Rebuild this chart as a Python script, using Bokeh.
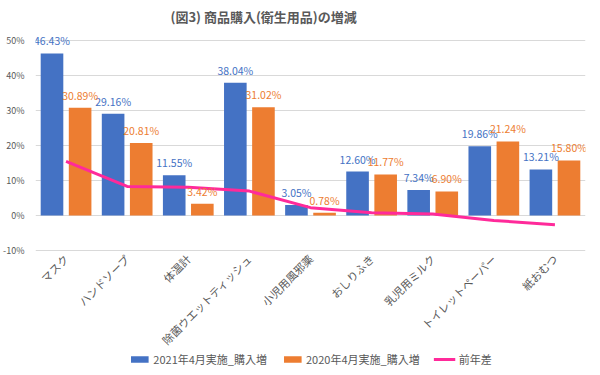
from bokeh.plotting import figure
from bokeh.models import (ColumnDataSource, Range1d, FactorRange, Legend, LegendItem,
                          FixedTicker, LabelSet)
from bokeh.transform import dodge
from bokeh.core.properties import value
from bokeh.embed import file_html
from bokeh.resources import INLINE
import math

categories = ["マスク", "ハンドソープ", "体温計", "除菌ウエットティッシュ", "小児用風邪薬",
              "おしりふき", "乳児用ミルク", "トイレットペーパー", "紙おむつ"]
purchase_2021 = [46.43, 29.16, 11.55, 38.04, 3.05, 12.60, 7.34, 19.86, 13.21]
purchase_2020 = [30.89, 20.81, 3.42, 31.02, 0.78, 11.77, 6.90, 21.24, 15.80]
year_diff = [15.54, 8.35, 8.13, 7.02, 2.27, 0.83, 0.44, -1.38, -2.59]
y_ticks = [-10, 0, 10, 20, 30, 40, 50]
y_tick_labels = ["-10%", "0%", "10%", "20%", "30%", "40%", "50%"]
series_names = ["2021年4月実施_購入増", "2020年4月実施_購入増", "前年差"]
title_text = "(図3) 商品購入(衛生用品)の増減"

BLUE = "#4472C4"
ORANGE = "#ED7D31"
PINK = "#FF2A9A"
GRAY = "#595959"
FONT = "Noto Sans CJK JP"

src = ColumnDataSource(dict(
    cat=categories,
    a=purchase_2021,
    b=purchase_2020,
    d=year_diff,
    la=[f"{v:.2f}%" for v in purchase_2021],
    lb=[f"{v:.2f}%" for v in purchase_2020],
))

# frame extends below the -10% line so the legend can sit inside it
p = figure(x_range=FactorRange(*categories, range_padding=0), y_range=Range1d(-43.5, 53),
           frame_width=550, frame_height=337, output_backend="svg", toolbar_location=None,
           min_border_left=29, min_border_right=5, min_border_top=0, min_border_bottom=0)

p.title.text = title_text
p.title.text_font = FONT
p.title.text_font_size = "13px"
p.title.text_color = GRAY
p.title.text_font_style = "bold"
p.title.align = "left"
p.title.offset = 135
p.title.standoff = 9

p.outline_line_color = None
p.xgrid.grid_line_color = None
p.ygrid.grid_line_color = "#D9D9D9"
p.ygrid.grid_line_width = 1

p.yaxis.ticker = FixedTicker(ticks=y_ticks)
p.yaxis.major_label_overrides = {t: l for t, l in zip(y_ticks, y_tick_labels)}
p.yaxis.axis_line_color = None
p.yaxis.major_tick_line_color = None
p.yaxis.minor_tick_line_color = None
p.yaxis.major_label_text_font = FONT
p.yaxis.major_label_text_font_size = "9px"
p.yaxis.major_label_text_color = GRAY
p.yaxis.major_label_standoff = 5

xa = p.xaxis[0]
xa.fixed_location = y_ticks[0]
xa.axis_line_color = None
xa.major_tick_line_color = None
xa.major_label_orientation = math.pi / 4
xa.major_label_text_font = FONT
xa.major_label_text_font_size = "11px"
xa.major_label_text_color = GRAY
xa.major_label_standoff = 0

r1 = p.vbar(x=dodge("cat", -0.23, range=p.x_range), top="a", bottom=0, width=0.37,
            source=src, fill_color=BLUE, line_color=None)
r2 = p.vbar(x=dodge("cat", 0.23, range=p.x_range), top="b", bottom=0, width=0.37,
            source=src, fill_color=ORANGE, line_color=None)
r3 = p.line(x="cat", y="d", source=src, line_color=PINK, line_width=3)

la = LabelSet(x=dodge("cat", -0.23, range=p.x_range), y="a", text="la", source=src,
              text_align="center", text_baseline="bottom", y_offset=5,
              text_font=value(FONT), text_font_size="10.5px", text_color=BLUE)
lb = LabelSet(x=dodge("cat", 0.23, range=p.x_range), y="b", text="lb", source=src,
              text_align="center", text_baseline="bottom", y_offset=5,
              text_font=value(FONT), text_font_size="10.5px", text_color=ORANGE)
p.add_layout(la)
p.add_layout(lb)

legend = Legend(items=[LegendItem(label=series_names[0], renderers=[r1]),
                       LegendItem(label=series_names[1], renderers=[r2]),
                       LegendItem(label=series_names[2], renderers=[r3])],
                orientation="horizontal", location="bottom",
                label_text_font=FONT, label_text_font_size="11px", label_text_color=GRAY,
                glyph_width=22, glyph_height=8, label_standoff=3, spacing=14,
                border_line_color=None, background_fill_alpha=0,
                padding=2, margin=0)
p.add_layout(legend)

open("out.html", "w").write(file_html(p, INLINE))
